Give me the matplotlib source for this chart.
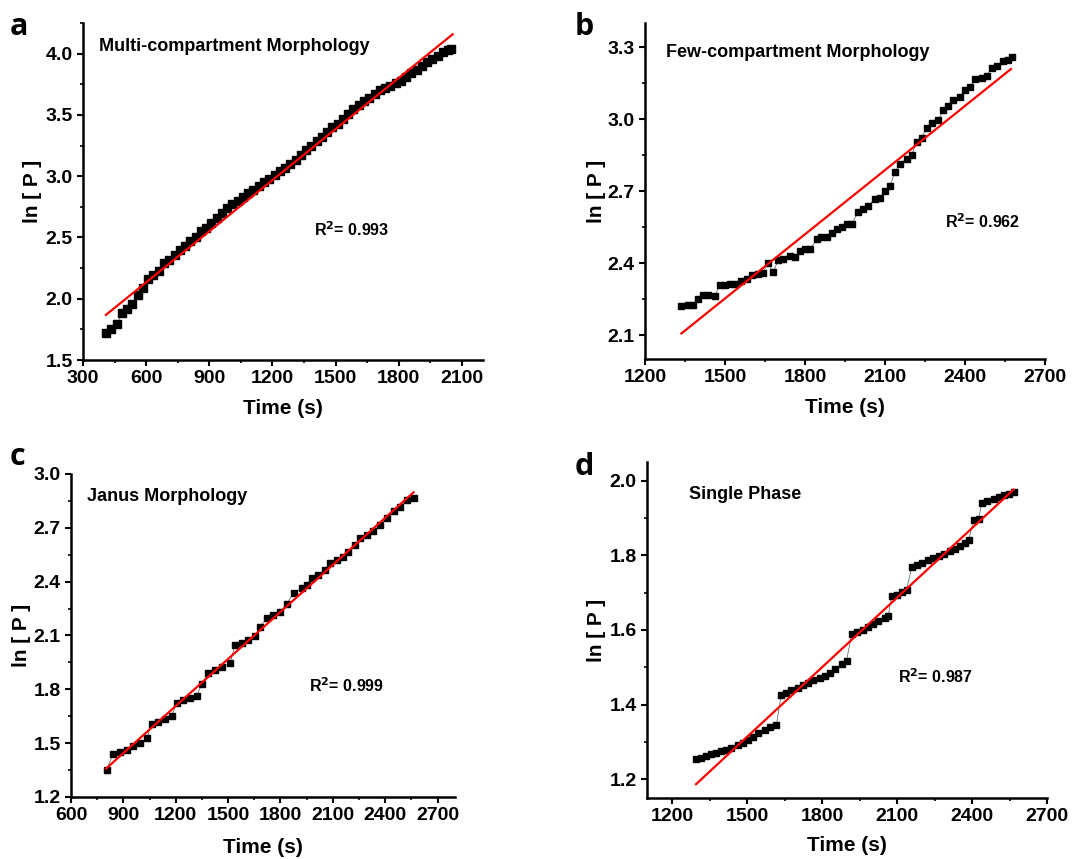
import matplotlib
matplotlib.use("Agg")
import matplotlib.pyplot as plt
from matplotlib.ticker import MultipleLocator

plt.rcParams['font.family'] = ['Liberation Sans', 'DejaVu Sans']
plt.rcParams['font.weight'] = 'bold'

# panel a - multi-compartment
t_a = [410, 435, 460, 485, 510, 535, 560, 585, 610, 635, 660, 685, 710, 735, 760, 785,
       810, 835, 860, 885, 910, 935, 960, 985, 1010, 1035, 1060, 1085, 1110, 1135, 1160,
       1185, 1210, 1235, 1260, 1285, 1310, 1335, 1360, 1385, 1410, 1435, 1460, 1485, 1510,
       1535, 1560, 1585, 1610, 1635, 1660, 1685, 1710, 1735, 1760, 1785, 1810, 1835, 1860,
       1885, 1910, 1935, 1960, 1985, 2010, 2035, 2050]
p_a = [1.72, 1.75, 1.79, 1.88, 1.92, 1.96, 2.03, 2.09, 2.16, 2.19, 2.23, 2.29, 2.32, 2.36,
       2.40, 2.43, 2.47, 2.50, 2.55, 2.58, 2.62, 2.66, 2.70, 2.74, 2.77, 2.80, 2.83, 2.86,
       2.89, 2.92, 2.95, 2.98, 3.01, 3.04, 3.07, 3.10, 3.13, 3.17, 3.21, 3.25, 3.29, 3.32,
       3.36, 3.40, 3.43, 3.47, 3.51, 3.55, 3.58, 3.61, 3.64, 3.67, 3.70, 3.72, 3.74, 3.76,
       3.78, 3.81, 3.84, 3.87, 3.90, 3.93, 3.96, 3.98, 4.01, 4.03, 4.04]
fit_a_t = [409, 2056]
fit_a_p = [1.868, 4.158]

# panel b - few-compartment
t_b = [1337, 1362, 1381, 1400, 1419, 1437, 1462, 1481, 1500, 1519, 1537, 1562, 1581, 1600,
       1625, 1644, 1660, 1681, 1700, 1719, 1744, 1762, 1781, 1800, 1819, 1844, 1862, 1881,
       1900, 1919, 1937, 1956, 1975, 2000, 2019, 2037, 2062, 2081, 2100, 2119, 2137, 2156,
       2181, 2200, 2219, 2237, 2256, 2275, 2300, 2319, 2337, 2356, 2381, 2400, 2419, 2437,
       2462, 2481, 2500, 2519, 2544, 2562, 2575]
p_b = [2.222, 2.225, 2.225, 2.25, 2.268, 2.268, 2.263, 2.308, 2.31, 2.312, 2.312, 2.326,
       2.333, 2.35, 2.354, 2.36, 2.40, 2.363, 2.413, 2.416, 2.43, 2.426, 2.45, 2.46, 2.457,
       2.50, 2.509, 2.509, 2.527, 2.54, 2.552, 2.561, 2.564, 2.613, 2.624, 2.638, 2.668,
       2.672, 2.70, 2.72, 2.779, 2.814, 2.834, 2.852, 2.904, 2.922, 2.963, 2.984, 2.998,
       3.037, 3.056, 3.081, 3.092, 3.123, 3.134, 3.167, 3.171, 3.181, 3.213, 3.22, 3.24,
       3.247, 3.258]
fit_b_t = [1337, 2572]
fit_b_p = [2.107, 3.208]

# panel c - janus
t_c = [804, 843, 881, 919, 957, 996, 1034, 1062, 1101, 1139, 1177, 1206, 1244, 1282, 1320,
       1349, 1387, 1426, 1464, 1512, 1540, 1578, 1617, 1655, 1683, 1722, 1760, 1798, 1836,
       1875, 1922, 1951, 1980, 2018, 2056, 2085, 2123, 2161, 2190, 2228, 2257, 2295, 2333,
       2371, 2410, 2448, 2486, 2524, 2563]
p_c = [1.353, 1.442, 1.451, 1.464, 1.483, 1.50, 1.526, 1.606, 1.619, 1.632, 1.65, 1.725,
       1.74, 1.749, 1.762, 1.829, 1.893, 1.907, 1.922, 1.948, 2.047, 2.056, 2.075, 2.097,
       2.149, 2.196, 2.214, 2.233, 2.276, 2.336, 2.363, 2.382, 2.423, 2.438, 2.466, 2.503,
       2.522, 2.54, 2.568, 2.605, 2.646, 2.661, 2.68, 2.717, 2.754, 2.792, 2.816, 2.857,
       2.866]
fit_c_t = [801, 2563]
fit_c_p = [1.358, 2.898]

# panel d - single phase
t_d = [1296, 1316, 1336, 1356, 1376, 1397, 1417, 1437, 1463, 1483, 1503, 1524, 1544, 1570,
       1590, 1617, 1637, 1657, 1677, 1704, 1724, 1744, 1764, 1791, 1811, 1831, 1851, 1878,
       1898, 1918, 1938, 1965, 1985, 2005, 2025, 2052, 2065, 2078, 2098, 2118, 2138, 2159,
       2179, 2199, 2225, 2245, 2266, 2286, 2312, 2332, 2352, 2372, 2386, 2406, 2426, 2439,
       2459, 2486, 2506, 2526, 2546, 2566]
p_d = [1.255, 1.258, 1.262, 1.267, 1.271, 1.276, 1.279, 1.285, 1.291, 1.298, 1.305, 1.314,
       1.323, 1.332, 1.34, 1.345, 1.427, 1.43, 1.439, 1.445, 1.452, 1.457, 1.466, 1.472,
       1.478, 1.485, 1.496, 1.508, 1.517, 1.588, 1.594, 1.601, 1.608, 1.617, 1.624, 1.633,
       1.637, 1.691, 1.695, 1.701, 1.708, 1.769, 1.773, 1.78, 1.787, 1.793, 1.798, 1.804,
       1.811, 1.818, 1.824, 1.832, 1.84, 1.894, 1.898, 1.94, 1.945, 1.951, 1.956, 1.961,
       1.965, 1.969]
fit_d_t = [1296, 2566]
fit_d_p = [1.187, 1.976]

panels = [
    # letter, title, r2, t, p, fit t, fit p, rect, xlim, ylim, xmaj, ymaj, ymin,
    # title pos, r2 pos, marker size, ylabel x, xlabel y
    ('a', 'Multi-compartment Morphology', '0.993', t_a, p_a, fit_a_t, fit_a_p,
     [0.0761, 0.5809, 0.367, 0.3923], (300, 2200), (1.5, 4.25), 300, 0.5, 0.25,
     (0.04, 0.929), (0.578, 0.386), 6, -0.1025, -0.116),
    ('b', 'Few-compartment Morphology', '0.962', t_b, p_b, fit_b_t, fit_b_p,
     [0.5917, 0.582, 0.367, 0.3912], (1200, 2700), (2.0, 3.4), 300, 0.3, 0.15,
     (0.052, 0.912), (0.75, 0.41), 4.6, -0.0975, -0.116),
    ('c', 'Janus Morphology', '0.999', t_c, p_c, fit_c_t, fit_c_p,
     [0.0651, 0.0722, 0.3523, 0.376], (600, 2800), (1.2, 3.0), 300, 0.3, 0.15,
     (0.042, 0.93), (0.62, 0.344), 5, -0.104, -0.127),
    ('d', 'Single Phase', '0.987', t_d, p_d, fit_d_t, fit_d_p,
     [0.5936, 0.071, 0.367, 0.3912], (1100, 2700), (1.15, 2.05), 300, 0.2, 0.1,
     (0.106, 0.902), (0.627, 0.361), 4.6, -0.1025, -0.113),
]

fig = plt.figure(figsize=(10.9, 8.59), dpi=100)

letter_pos = {'a': (0.009, 0.959), 'b': (0.527, 0.959), 'c': (0.009, 0.459), 'd': (0.527, 0.447)}

for (letter, title, r2, t, p, ft, fp, rect, xl, yl, xmaj, ymaj, ymin,
     tpos, rpos, ms, ylx, xly) in panels:
    ax = fig.add_axes(rect)
    ax.plot(t, p, color='#555555', lw=0.5, zorder=2)
    ax.plot(t, p, ls='none', marker='s', ms=ms, color='black', zorder=3)
    ax.plot(ft, fp, color='red', lw=1.6, zorder=4)
    ax.set_xlim(*xl)
    ax.set_ylim(*yl)
    ax.xaxis.set_major_locator(MultipleLocator(xmaj))
    ax.xaxis.set_minor_locator(MultipleLocator(xmaj / 2))
    ax.yaxis.set_major_locator(MultipleLocator(ymaj))
    ax.yaxis.set_minor_locator(MultipleLocator(ymin))
    if letter == 'd':
        ax.set_xticks(range(1200, 2701, 300))
    ax.yaxis.set_major_formatter(plt.FormatStrFormatter('%.1f'))
    for s in ['top', 'right']:
        ax.spines[s].set_visible(False)
    for s in ['left', 'bottom']:
        ax.spines[s].set_linewidth(1.8)
    ax.tick_params(which='major', direction='out', length=4, width=1.5, labelsize=14)
    ax.tick_params(which='minor', direction='out', length=2.5, width=1.2)
    for lab in ax.get_xticklabels() + ax.get_yticklabels():
        lab.set_fontweight('bold')
    ax.set_xlabel('Time (s)', fontsize=15, fontweight='bold')
    ax.set_ylabel('ln [ P ]', fontsize=15, fontweight='bold')
    ax.yaxis.set_label_coords(ylx, 0.5)
    ax.xaxis.set_label_coords(0.5, xly)
    ax.text(tpos[0], tpos[1], title, transform=ax.transAxes, fontsize=13,
            fontweight='bold', va='center', ha='left')
    ax.text(rpos[0], rpos[1], 'R$^\\mathbf{2}$= ' + r2, transform=ax.transAxes,
            fontsize=11.5, fontweight='bold', va='center', ha='left')
    lx, ly = letter_pos[letter]
    fig.text(lx, ly, letter, fontsize=22, fontweight='bold',
             family=['Open Sans', 'DejaVu Sans'], va='baseline')

fig.savefig('out.png', dpi=100)
